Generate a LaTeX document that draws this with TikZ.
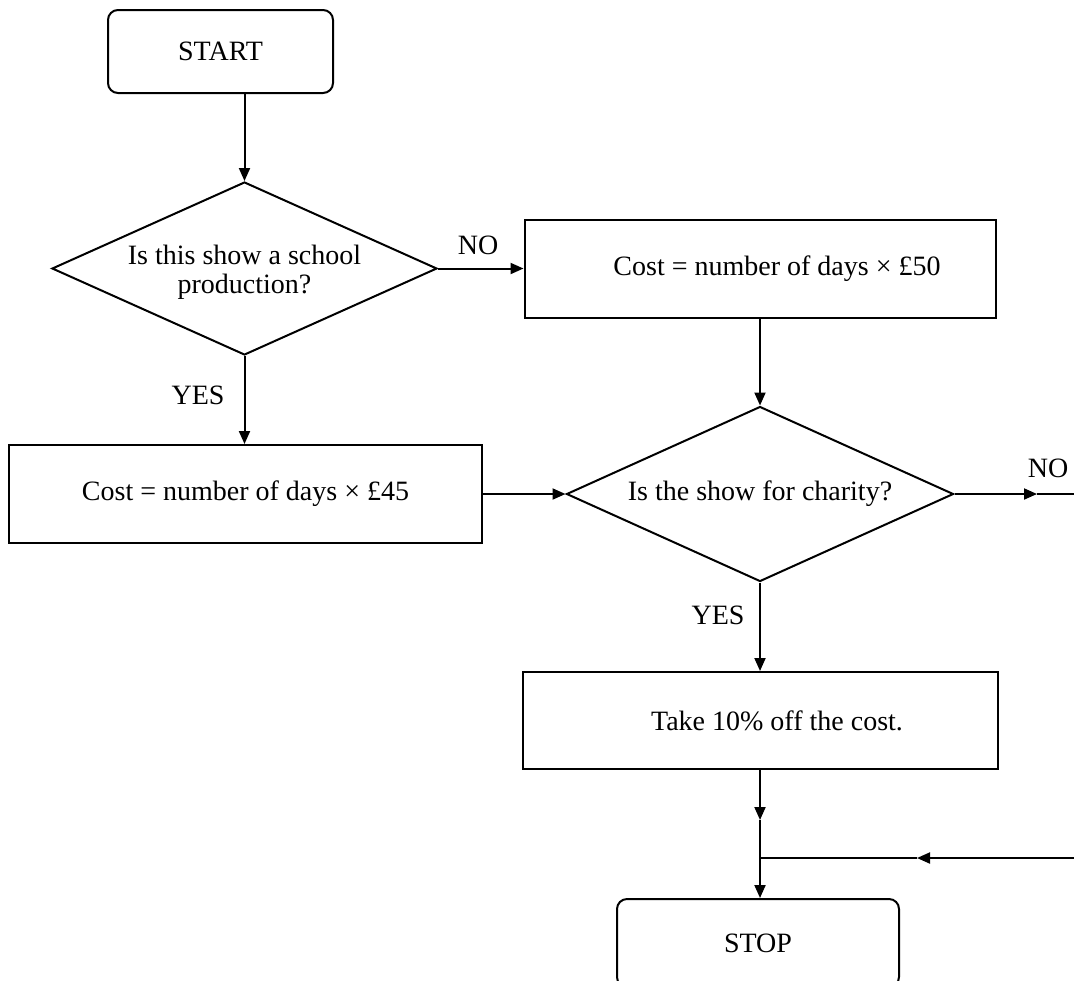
\documentclass[tikz,border=0pt]{standalone}
\usepackage{fontspec}
\setmainfont{Liberation Serif}
\usetikzlibrary{positioning,arrows.meta,shapes.geometric}

\begin{document}
\begin{tikzpicture}[x=0.5pt, y=-0.5pt, >={Triangle[length=6.5pt,width=5.5pt]},
  every node/.style={font=\fontsize{14}{14.5}\selectfont},
  flow/.style={line width=1pt},
  termbox/.style={draw, line width=1pt, rounded corners=5pt, inner sep=0pt},
  procbox/.style={draw, line width=1pt, inner sep=0pt},
  decision/.style={draw, line width=1pt, diamond, inner sep=0pt}]
  \useasboundingbox (0,0) rectangle (1074,980);
  \begin{scope}
  \clip (0,0) rectangle (1074,980);
  \node[termbox, minimum width=112.5pt, minimum height=41.5pt] (start) at (220.5,51.5) {START};
  \node[decision, minimum width=192.5pt, minimum height=86.5pt,
    label={[align=center, yshift=-2pt]center:Is this show a school\\production?}] (q1) at (244.5,268.5) {};
  \node[procbox, minimum width=235.5pt, minimum height=49pt] (cost50) at (760,268.5) {\hspace{17pt}Cost = number of days × £50};
  \node[procbox, minimum width=236.5pt, minimum height=49pt] (cost45) at (245.5,494) {Cost = number of days × £45\hspace{17pt}};
  \node[decision, minimum width=193.5pt, minimum height=87.5pt,
    label={center:Is the show for charity?}] (q2) at (760,494) {};
  \node[procbox, minimum width=237.5pt, minimum height=48.5pt] (take) at (760,720.5) {\hspace{17pt}Take 10\% off the cost.};
  \node[termbox, minimum width=141pt, minimum height=44pt] (stop) at (758,943) {STOP};

  % branch labels
  \node (no1) at (478,245) {NO};
  \node (yes1) at (198,395) {YES};
  \node (no2) at (1048,468) {NO};
  \node (yes2) at (718,615) {YES};

  \coordinate (rightout) at (1074,494);
  \coordinate (rightmid) at (1037,494);
  \coordinate (rightin) at (1074,858);
  \coordinate (leftmid) at (917,858);
  \coordinate (join) at (760,858);
  \coordinate (downmid) at (760,820);

  \draw[flow, ->] (start.south -| q1.north) -- (q1.north);
  \draw[flow, ->] (q1.east) -- (cost50.west);
  \draw[flow, ->] (q1.south) -- (q1.south |- cost45.north);
  \draw[flow, ->] (cost50.south) -- (q2.north);
  \draw[flow, ->] (cost45.east) -- (q2.west);
  \draw[flow, ->] (q2.east) -- (rightmid);
  \draw[flow] (rightmid) -- (rightout);
  \draw[flow, ->] (q2.south) -- (take.north);
  \draw[flow, ->] (take.south) -- (downmid);
  \draw[flow] (downmid) -- (join);
  \draw[flow, ->] (join) -- (join |- stop.north);
  \draw[flow, ->] (rightin) -- (leftmid);
  \draw[flow] (leftmid) -- (join);
  \end{scope}
\end{tikzpicture}
\end{document}
